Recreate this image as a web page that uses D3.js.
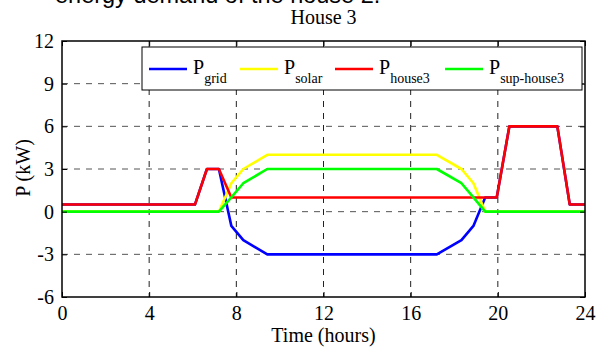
<!DOCTYPE html>
<html><head><meta charset="utf-8">
<script src="https://cdn.jsdelivr.net/npm/d3@7"></script>
<style>body{margin:0;background:#fff}svg{display:block}</style>
</head><body>
<script>
const times  = [0, 6.1, 6.65, 7.2, 7.77, 8.32, 9.42, 17.2, 18.33, 18.88, 19.42, 19.95, 20.53, 22.73, 23.3, 24];
const pGrid  = [0.5, 0.5, 3, 3, -1, -2, -3, -3, -2, -1, 1, 1, 6, 6, 0.5, 0.5];
const pSolar = [0, 0, 0, 0, 2, 3, 4, 4, 3, 2, 0, 0, 0, 0, 0, 0];
const pHouse = [0.5, 0.5, 3, 3, 1, 1, 1, 1, 1, 1, 1, 1, 6, 6, 0.5, 0.5];
const pSup   = [0, 0, 0, 0, 1, 2, 3, 3, 2, 1, 0, 0, 0, 0, 0, 0];
const xTicks = [0, 4, 8, 12, 16, 20, 24];
const yTicks = [-6, -3, 0, 3, 6, 9, 12];
const seriesNames = ["grid", "solar", "house3", "sup-house3"];
const seriesColors = ["#0000ff", "#ffff00", "#ff0000", "#00ff00"];
const seriesData = [pGrid, pSolar, pHouse, pSup];

const W = 596, H = 347;
const L = 62, R = 585, T = 41, B = 297;
const svg = d3.select("body").append("svg").attr("width", W).attr("height", H);
const x = d3.scaleLinear().domain([0, 24]).range([L, R]);
const y = d3.scaleLinear().domain([-6, 12]).range([B, T]);
const serif = "Liberation Serif";

// partial document text at top
svg.append("text").attr("x", 55).attr("y", 3)
  .style("font-family", "Liberation Sans").style("font-size", "23.5px")
  .text("energy demand of the house 2.");

// title
svg.append("text").attr("x", (L + R) / 2).attr("y", 24).attr("text-anchor", "middle")
  .style("font-family", serif).style("font-size", "20px").text("House 3");

// grid
const g = svg.append("g");
g.selectAll(".vg").data(xTicks.slice(1, -1)).enter().append("line")
  .attr("x1", d => x(d)).attr("x2", d => x(d)).attr("y1", T).attr("y2", B)
  .attr("stroke", "#222").attr("stroke-width", 1).attr("stroke-dasharray", "6,6");
g.selectAll(".hg").data(yTicks.slice(1, -1)).enter().append("line")
  .attr("y1", d => y(d)).attr("y2", d => y(d)).attr("x1", L).attr("x2", R)
  .attr("stroke", "#555").attr("stroke-width", 1).attr("stroke-dasharray", "6,6");

// lines
const line = d3.line().x((d, i) => x(times[i])).y(d => y(d));
seriesData.forEach((s, k) => {
  svg.append("path").datum(s).attr("d", line).attr("fill", "none")
    .attr("stroke", seriesColors[k]).attr("stroke-width", 2.6).attr("stroke-linejoin", "round");
});

// axes (ticks inside)
const fmt = d => String(d);
const axB = svg.append("g").attr("transform", `translate(0,${B})`)
  .call(d3.axisBottom(x).tickValues(xTicks).tickSize(-5).tickPadding(9).tickFormat(fmt));
const axT = svg.append("g").attr("transform", `translate(0,${T})`)
  .call(d3.axisTop(x).tickValues(xTicks).tickSize(-5).tickFormat(""));
const axL = svg.append("g").attr("transform", `translate(${L},0)`)
  .call(d3.axisLeft(y).tickValues(yTicks).tickSize(-5).tickPadding(8).tickFormat(fmt));
const axR = svg.append("g").attr("transform", `translate(${R},0)`)
  .call(d3.axisRight(y).tickValues(yTicks).tickSize(-5).tickFormat(""));
[axB, axT, axL, axR].forEach(a => {
  a.select(".domain").remove();
  a.attr("font-family", null).attr("font-size", null);
  a.selectAll("line").attr("stroke", "#000");
  a.selectAll("text").style("font-family", serif).style("font-size", "20px").attr("fill", "#000");
});
axB.selectAll("text").attr("dy", "0.71em");
svg.append("rect").attr("x", L).attr("y", T).attr("width", R - L).attr("height", B - T)
  .attr("fill", "none").attr("stroke", "#000").attr("stroke-width", 1.5);

// axis labels
svg.append("text").attr("x", (L + R) / 2).attr("y", 342).attr("text-anchor", "middle")
  .style("font-family", serif).style("font-size", "20px").text("Time (hours)");
svg.append("text").attr("transform", "translate(30,168) rotate(-90)").attr("text-anchor", "middle")
  .style("font-family", serif).style("font-size", "20px").text("P (kW)");

// legend
const lg = svg.append("g");
lg.append("rect").attr("x", 142).attr("y", 47).attr("width", 440).attr("height", 43)
  .attr("fill", "#fff").attr("stroke", "#000").attr("stroke-width", 1);
const legX = [149, 240, 335, 445];
seriesNames.forEach((n, k) => {
  lg.append("line").attr("x1", legX[k]).attr("x2", legX[k] + 38).attr("y1", 69).attr("y2", 69)
    .attr("stroke", seriesColors[k]).attr("stroke-width", 2.6);
  const t = lg.append("text").attr("x", legX[k] + 44).attr("y", 74)
    .style("font-family", serif).style("font-size", "20px");
  t.append("tspan").text("P");
  t.append("tspan").attr("dy", 9).style("font-size", "14px").text(n);
});
</script>
</body></html>
